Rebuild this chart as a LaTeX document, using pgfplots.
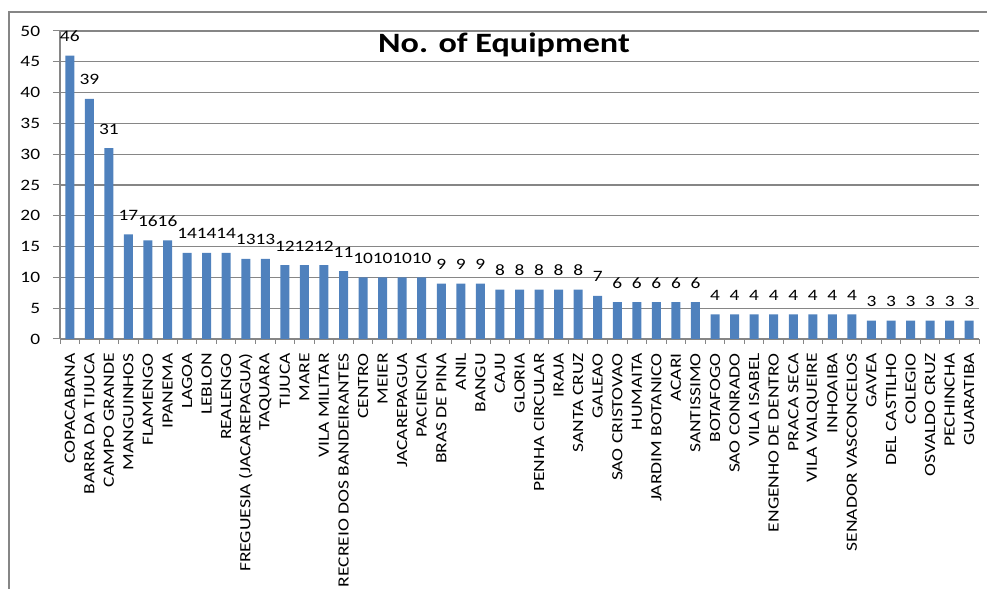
\documentclass[border=0pt]{standalone}
\usepackage{pgfplots}
\pgfplotsset{compat=1.18}
\usepackage{fontspec}
\setmainfont[FakeStretch=1.22]{Carlito}
\newfontfamily\catfont[FakeStretch=1.25]{Carlito}

\definecolor{barblue}{RGB}{79,129,189}
\definecolor{gridgray}{RGB}{134,134,134}

\begin{document}
\begin{tikzpicture}
% page area, 1 px = 0.75pt
\path[use as bounding box] (0pt,0pt) rectangle (740.25pt,441pt);
% chart-area border
\draw[gridgray,line width=0.9pt] (6.75pt,-8pt) -- (6.75pt,432pt) -- (750pt,432pt);

\begin{axis}[
  at={(45pt,186.75pt)}, anchor=south west,
  scale only axis,
  width=689.25pt, height=231pt,
  xmin=-0.5, xmax=46.5,
  ymin=0, ymax=50,
  ytick={0,5,...,50},
  xtick={0,...,46},
  minor xtick={-0.5,0.5,...,46.5},
  xticklabels={COPACABANA,BARRA DA TIJUCA,CAMPO GRANDE,MANGUINHOS,FLAMENGO,IPANEMA,LAGOA,LEBLON,REALENGO,FREGUESIA  (JACAREPAGUA),TAQUARA,TIJUCA,MARE,VILA MILITAR,RECREIO DOS BANDEIRANTES,CENTRO,MEIER,JACAREPAGUA,PACIENCIA,BRAS DE PINA,ANIL,BANGU,CAJU,GLORIA,PENHA CIRCULAR,IRAJA,SANTA CRUZ,GALEAO,SAO CRISTOVAO,HUMAITA,JARDIM BOTANICO,ACARI,SANTISSIMO,BOTAFOGO,SAO CONRADO,VILA ISABEL,ENGENHO  DE DENTRO,PRACA SECA,VILA VALQUEIRE,INHOAIBA,SENADOR VASCONCELOS,GAVEA,DEL CASTILHO,COLEGIO,OSVALDO CRUZ,PECHINCHA,GUARATIBA},
  xticklabel style={rotate=90, anchor=east, font=\catfont\fontsize{11.7}{12}\selectfont, inner sep=0pt, xshift=-5.25pt},
  yticklabel style={font=\fontsize{11.9}{12}\selectfont, anchor=east, inner sep=0pt, xshift=-9.5pt},
  /pgf/number format/assume math mode=true,
  tick align=outside,
  major tick length=5.25pt,
  minor tick length=3.75pt,
  x tick style={draw=none},
  minor x tick style={draw=gridgray, line width=0.75pt},
  y tick style={draw=gridgray, line width=0.75pt},
  axis x line*=bottom,
  axis y line*=left,
  axis line style={gridgray, line width=0.9pt},
  ymajorgrids,
  major grid style={gridgray, line width=0.9pt},
  ybar, bar width=6.75pt,
  nodes near coords,
  every node near coord/.style={anchor=base, yshift=10.5pt, inner sep=0pt, font=\fontsize{11.9}{12}\selectfont, text=black},
  clip=false,
]
\addplot[fill=barblue, draw=none] coordinates {
  (0,46) (1,39) (2,31) (3,17) (4,16) (5,16) (6,14) (7,14) (8,14) (9,13)
  (10,13) (11,12) (12,12) (13,12) (14,11) (15,10) (16,10) (17,10) (18,10) (19,9)
  (20,9) (21,9) (22,8) (23,8) (24,8) (25,8) (26,8) (27,7) (28,6) (29,6)
  (30,6) (31,6) (32,6) (33,4) (34,4) (35,4) (36,4) (37,4) (38,4) (39,4)
  (40,4) (41,3) (42,3) (43,3) (44,3) (45,3) (46,3)
};
\end{axis}

\node[anchor=base, inner sep=0pt, font=\fontsize{21}{24}\selectfont\bfseries] at (378pt,401.25pt) {No. of Equipment};
\end{tikzpicture}
\end{document}
